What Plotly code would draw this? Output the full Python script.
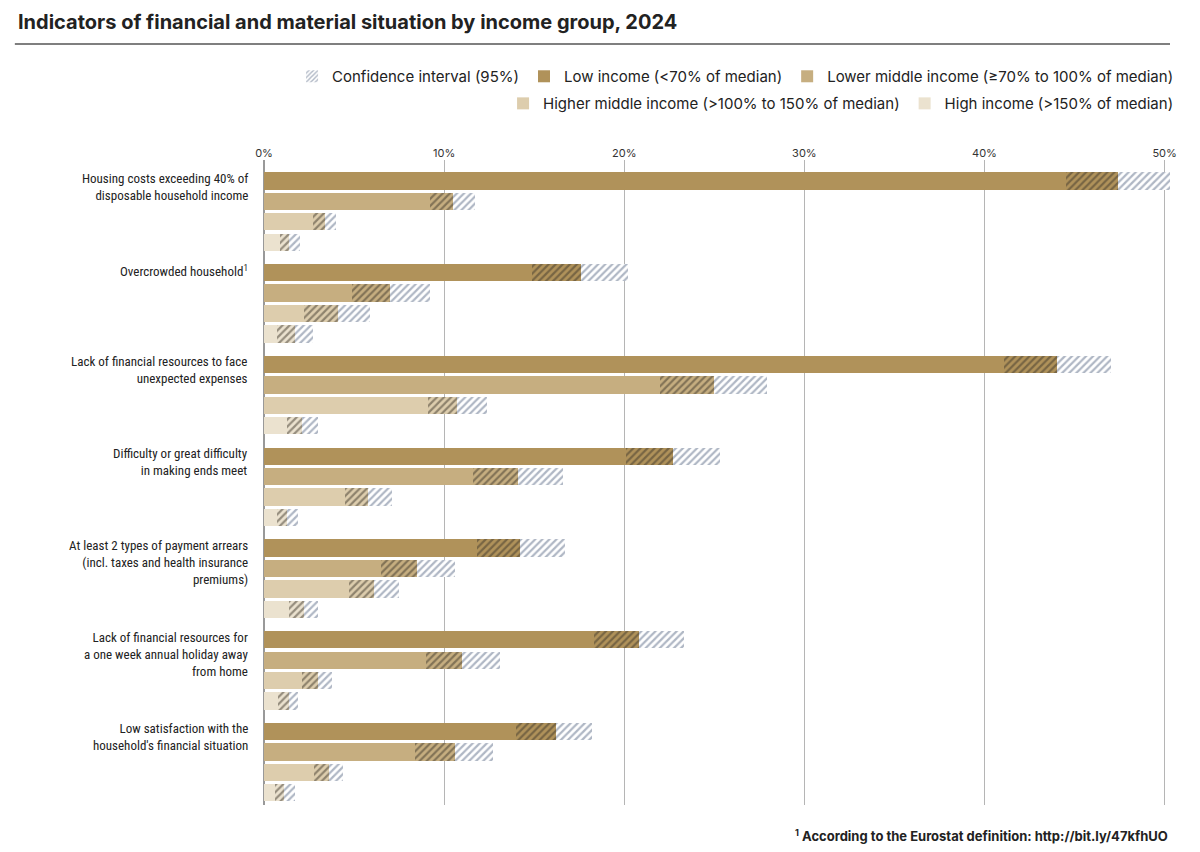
import plotly.graph_objects as go

categories = [
    "Housing costs exceeding 40% of<br>disposable household income",
    "Overcrowded household<sup>1</sup>",
    "Lack of financial resources to face<br>unexpected expenses",
    "Difficulty or great difficulty<br>in making ends meet",
    "At least 2 types of payment arrears<br>(incl. taxes and health insurance<br>premiums)",
    "Lack of financial resources for<br>a one week annual holiday away<br>from home",
    "Low satisfaction with the<br>household's financial situation",
]
groups = ["Low income (<70% of median)", "Lower middle income (≥70% to 100% of median)",
          "Higher middle income (>100% to 150% of median)", "High income (>150% of median)"]
colors = ["#b0925a", "#c6ae80", "#ddcdad", "#ebe2cf"]

# [category][group] -> value, lower, upper (%)
values = [
    [47.4, 10.5, 3.4, 1.4],
    [17.6, 7.0, 4.1, 1.7],
    [44.0, 25.0, 10.7, 2.1],
    [22.7, 14.1, 5.8, 1.3],
    [14.2, 8.5, 6.1, 2.2],
    [20.8, 11.0, 3.0, 1.4],
    [16.2, 10.6, 3.6, 1.1],
]
lower = [
    [44.5, 9.2, 2.7, 0.9],
    [14.9, 4.9, 2.2, 0.7],
    [41.1, 22.0, 9.1, 1.3],
    [20.1, 11.6, 4.5, 0.7],
    [11.8, 6.5, 4.7, 1.4],
    [18.3, 9.0, 2.1, 0.8],
    [14.0, 8.4, 2.8, 0.6],
]
upper = [
    [50.3, 11.7, 4.0, 2.0],
    [20.2, 9.2, 5.9, 2.7],
    [47.0, 27.9, 12.4, 3.0],
    [25.3, 16.6, 7.1, 1.9],
    [16.7, 10.6, 7.5, 3.0],
    [23.3, 13.1, 3.8, 1.9],
    [18.2, 12.7, 4.4, 1.7],
]

fig = go.Figure()
hatch_dark = "#3f382c"
hatch_light = "#5f6f8a"
W = 0.85

for j, g in enumerate(groups):
    ys = [-(i * 4.5 + j) for i in range(len(categories))]
    lo = [lower[i][j] for i in range(len(categories))]
    va = [values[i][j] for i in range(len(categories))]
    hi = [upper[i][j] for i in range(len(categories))]
    fig.add_trace(go.Bar(y=ys, x=lo, orientation="h", width=W, marker_color=colors[j],
                         marker_line_width=0, showlegend=False, hoverinfo="skip"))
    fig.add_trace(go.Bar(y=ys, x=[v - l for v, l in zip(va, lo)], base=lo, orientation="h", width=W,
                         marker=dict(color=colors[j], line_width=0,
                                     pattern=dict(shape="/", fgcolor=hatch_dark, bgcolor=colors[j],
                                                  size=5, solidity=0.45)),
                         showlegend=False, hoverinfo="skip"))
    fig.add_trace(go.Bar(y=ys, x=[h - v for h, v in zip(hi, va)], base=va, orientation="h", width=W,
                         marker=dict(color="white", line_width=0,
                                     pattern=dict(shape="/", fgcolor=hatch_light, bgcolor="white",
                                                  size=5, solidity=0.45)),
                         showlegend=False, hoverinfo="skip"))

# legend entries: two rows, right aligned
fig.add_trace(go.Bar(y=[None], x=[None], orientation="h", name="Confidence interval (95%)",
                     marker=dict(color="white", line_width=0,
                                 pattern=dict(shape="/", fgcolor=hatch_light, bgcolor="white",
                                              size=4, solidity=0.45))))
for j, g in enumerate(groups):
    fig.add_trace(go.Bar(y=[None], x=[None], orientation="h", name=g,
                         legend="legend" if j < 2 else "legend2",
                         marker=dict(color=colors[j], line_width=0)))

for i, c in enumerate(categories):
    fig.add_annotation(x=-0.015, xref="paper", y=-(i * 4.5) + 0.6, yref="y", text=c,
                       showarrow=False, xanchor="right", yanchor="top", align="right",
                       font=dict(family="Roboto Condensed, Liberation Sans Narrow, Roboto", size=13, color="#222"))

fig.add_annotation(x=0, xref="paper", y=1, yref="paper", yshift=138, xshift=-248,
                   text="<b>Indicators of financial and material situation by income group, 2024</b>",
                   showarrow=False, xanchor="left", yanchor="middle",
                   font=dict(family="Inter", size=20, color="#222"))
fig.add_shape(type="line", xref="paper", yref="paper", x0=-0.275, x1=1.0, y0=1.18, y1=1.18,
              line=dict(color="#555", width=1.5))
fig.add_annotation(x=1, xref="paper", y=0, yref="paper", yshift=-30,
                   text="<b><sup>1</sup> According to the Eurostat definition: http://bit.ly/47kfhUO</b>",
                   showarrow=False, xanchor="right", yanchor="middle",
                   font=dict(family="Inter", size=13, color="#222"))

legend_font = dict(size=15, family="Inter", color="#222")
fig.update_layout(
    width=1200, height=852,
    margin=dict(l=256, r=38, t=152, b=55, autoexpand=False),
    barmode="overlay", bargap=0,
    plot_bgcolor="white", paper_bgcolor="white",
    font=dict(family="Inter", color="#222"),
    legend=dict(orientation="h", x=1.01, xanchor="right", y=1.155, yanchor="top",
                font=legend_font, traceorder="normal"),
    legend2=dict(orientation="h", x=1.01, xanchor="right", y=1.113, yanchor="top",
                 font=legend_font, traceorder="normal"),
    xaxis=dict(range=[0, 50.3], side="top", dtick=10, ticksuffix="%", showgrid=True,
               gridcolor="#b5b5b5", gridwidth=1.2, zeroline=True, zerolinecolor="#999",
               tickfont=dict(size=11, color="#333"), fixedrange=True),
    yaxis=dict(range=[-30.6, 1.03], showticklabels=False, showgrid=False, zeroline=False),
)
fig.write_html("out.html")
